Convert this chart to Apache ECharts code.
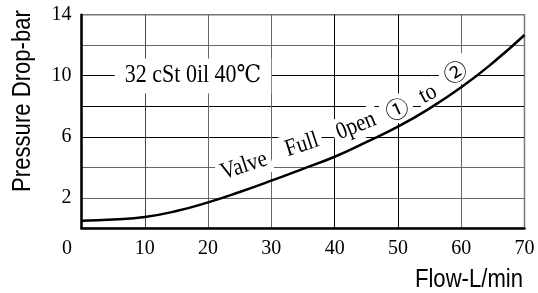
<!DOCTYPE html>
<html>
<head>
<meta charset="utf-8">
<script src="https://cdn.jsdelivr.net/npm/echarts@6/dist/echarts.min.js"></script>
<style>html,body{margin:0;padding:0;background:#fff;}#c{width:538px;height:293px;}</style>
</head>
<body>
<div id="c"></div>
<script>
var flow = [0, 5, 10, 15, 20, 25, 30, 35, 40, 45, 50, 55, 60, 65, 70];
var pressure = [0.5, 0.58, 0.74, 1.13, 1.7, 2.38, 3.12, 3.9, 4.69, 5.65, 6.66, 7.86, 9.24, 10.85, 12.67];
var xTicks = [0, 10, 20, 30, 40, 50, 60, 70];
var yTicksShown = [2, 6, 10, 14];
var yTitle = 'Pressure Drop-bar';
var xTitle = 'Flow-L/min';
var oilNote = '32 cSt 0il 40℃';
var curveWords = ['Valve', 'Full', '0pen', '①', 'to', '②'];

var serif = '"Liberation Serif", "DejaVu Serif", "Noto Sans CJK JP", serif';
var circ = '"Noto Sans CJK JP", "DejaVu Sans", sans-serif';
var sans = '"Liberation Sans", Arial, sans-serif';

var chart = echarts.init(document.getElementById('c'), null, {renderer: 'canvas'});

var wordPlace = [
  [244, 166, 18], [302, 145, 18], [356, 126, 22], [397, 109, 24], [428, 94, 28], [455, 72, 32]
];
var graphics = [];
curveWords.forEach(function (w, i) {
  var p = wordPlace[i];
  var isCirc = w.length === 1;
  graphics.push({
    type: 'text', x: p[0], y: p[1], rotation: p[2] * Math.PI / 180, z: 1,
    scaleY: isCirc ? 1 : 1.15,
    style: {
      text: w, fontSize: isCirc ? 23 : 21, fontFamily: isCirc ? circ : serif, fill: '#000',
      align: 'center', verticalAlign: 'middle', backgroundColor: '#fff', padding: [2, 4]
    }
  });
});
graphics.push({
  type: 'text', x: 193, y: 76, z: 1, scaleY: 1.1,
  style: {
    text: oilNote, fontSize: 22, fontFamily: serif, fill: '#000', align: 'center', verticalAlign: 'middle',
    backgroundColor: '#fff', padding: [5, 10]
  }
});
graphics.push({
  type: 'text', x: 23, y: 101, rotation: Math.PI / 2, z: 1, scaleX: 0.85,
  style: { text: yTitle, fontSize: 26, fontFamily: sans, fill: '#000', align: 'center', verticalAlign: 'middle' }
});
graphics.push({
  type: 'text', x: 523, y: 280, z: 1, scaleX: 0.85,
  style: { text: xTitle, fontSize: 26, fontFamily: sans, fill: '#000', align: 'right', verticalAlign: 'middle' }
});

chart.setOption({
  animation: false,
  backgroundColor: '#fff',
  grid: { left: 81.5, right: 13.5, top: 14.7, bottom: 64.7, show: true, borderColor: '#777', borderWidth: 1.5 },
  xAxis: {
    type: 'value', min: 0, max: 70, interval: 10,
    axisLine: { show: true, lineStyle: { color: '#000', width: 2.5 } },
    axisTick: { show: false },
    splitLine: { show: true, lineStyle: { color: ['#000', '#444', '#666', '#666', '#000', '#000', '#666', '#777'], width: 1 } },
    axisLabel: {
      margin: 10, color: '#000', fontFamily: serif, fontSize: 20,
      formatter: function (v) { return v === 0 ? '{o|0}' : (xTicks.indexOf(v) >= 0 ? String(v) : ''); },
      rich: { o: { padding: [0, 29, 0, 0], fontFamily: serif, fontSize: 20, color: '#000' } }
    }
  },
  yAxis: {
    type: 'value', min: 0, max: 14, interval: 2,
    axisLine: { show: true, lineStyle: { color: '#000', width: 2.5 } },
    axisTick: { show: false },
    splitLine: { show: true, lineStyle: { color: ['#000', '#666', '#666', '#000', '#000', '#000', '#666', '#777'], width: 1 } },
    axisLabel: {
      margin: 10, color: '#000', fontFamily: serif, fontSize: 20,
      formatter: function (v) { return yTicksShown.indexOf(v) >= 0 ? String(v) : ''; }
    }
  },
  graphic: graphics,
  series: [{
    type: 'line', z: 3, smooth: true, symbol: 'none',
    lineStyle: { color: '#000', width: 2.5 },
    data: flow.map(function (x, i) { return [x, pressure[i]]; })
  }]
});
</script>
</body>
</html>
